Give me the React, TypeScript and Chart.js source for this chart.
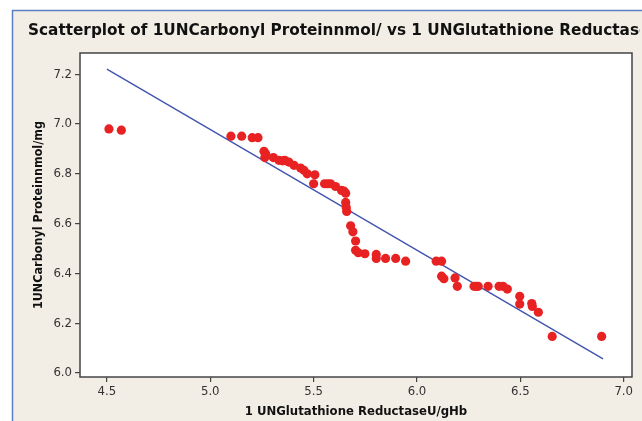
import React, { useEffect, useRef } from "react";
import { Chart, registerables } from "chart.js";

Chart.register(...registerables);

const titleText = "Scatterplot of 1UNCarbonyl Proteinnmol/ vs 1 UNGlutathione Reductase";
const xTitle = "1 UNGlutathione ReductaseU/gHb";
const yTitle = "1UNCarbonyl Proteinnmol/mg";

const xTicks = [4.5, 5.0, 5.5, 6.0, 6.5, 7.0];
const yTicks = [6.0, 6.2, 6.4, 6.6, 6.8, 7.0, 7.2];

const glutathione = [
  4.51, 4.57, 5.10, 5.152, 5.203, 5.231, 5.26, 5.268, 5.264, 5.305, 5.332, 5.35, 5.361, 5.38,
  5.405, 5.437, 5.453, 5.469, 5.506, 5.50, 5.553, 5.568, 5.582, 5.606, 5.635, 5.647, 5.655,
  5.655, 5.658, 5.66, 5.679, 5.69, 5.703, 5.703, 5.716, 5.748, 5.803, 5.803, 5.848, 5.897,
  5.945, 6.093, 6.119, 6.119, 6.13, 6.184, 6.195, 6.276, 6.288, 6.296, 6.344, 6.397, 6.416,
  6.437, 6.497, 6.497, 6.555, 6.558, 6.587, 6.654, 6.893,
];
const carbonyl = [
  6.98, 6.975, 6.951, 6.951, 6.945, 6.945, 6.89, 6.88, 6.865, 6.865, 6.854, 6.852, 6.854, 6.847,
  6.834, 6.823, 6.814, 6.80, 6.796, 6.76, 6.76, 6.76, 6.76, 6.749, 6.733, 6.73, 6.722,
  6.685, 6.665, 6.649, 6.591, 6.567, 6.53, 6.493, 6.483, 6.479, 6.476, 6.46, 6.46, 6.46,
  6.449, 6.449, 6.449, 6.389, 6.379, 6.382, 6.348, 6.348, 6.348, 6.348, 6.348, 6.348, 6.348,
  6.337, 6.308, 6.277, 6.279, 6.267, 6.244, 6.147, 6.147,
];
const fitX = [4.5, 6.9];
const fitY = [7.22, 6.057];

const FONT = "'DejaVu Sans Condensed', 'DejaVu Sans', sans-serif";

const framePlugin = {
  id: "frame",
  beforeDraw(chart: any) {
    const ctx = chart.ctx;
    const { width, height } = chart;
    ctx.save();
    ctx.fillStyle = "#ffffff";
    ctx.fillRect(0, 0, width, height);
    ctx.fillStyle = "#f2eee6";
    ctx.fillRect(12, 10, width - 12, height - 10);
    ctx.strokeStyle = "#5b7fc4";
    ctx.lineWidth = 1.5;
    ctx.beginPath();
    ctx.moveTo(12.5, height);
    ctx.lineTo(12.5, 10.5);
    ctx.lineTo(width, 10.5);
    ctx.stroke();
    const a = chart.chartArea;
    ctx.fillStyle = "#ffffff";
    ctx.fillRect(a.left, a.top, a.right - a.left, a.bottom - a.top);
    // title
    ctx.font = "bold 16px " + FONT;
    ctx.fillStyle = "#111111";
    ctx.textBaseline = "middle";
    ctx.textAlign = "left";
    ctx.beginPath();
    ctx.rect(12, 10, 628, 40);
    ctx.clip();
    const w = ctx.measureText(titleText.slice(0, 67)).width;
    const sx = 611 / w;
    ctx.translate(28, 31);
    ctx.scale(sx, 1);
    ctx.fillText(titleText, 0, 0);
    ctx.restore();
  },
  afterDraw(chart: any) {
    const ctx = chart.ctx;
    const a = chart.chartArea;
    ctx.save();
    ctx.strokeStyle = "#444444";
    ctx.lineWidth = 1.5;
    ctx.strokeRect(a.left, a.top, a.right - a.left, a.bottom - a.top);
    ctx.restore();
  },
};

export default function App() {
  const ref = useRef<HTMLCanvasElement | null>(null);
  useEffect(() => {
    document.body.style.margin = "0";
    const canvas = ref.current!;
    const points = glutathione.map((x, i) => ({ x, y: carbonyl[i] }));
    const fit = fitX.map((x, i) => ({ x, y: fitY[i] }));
    const chart = new Chart(canvas, {
      type: "scatter",
      data: {
        datasets: [
          {
            type: "line",
            data: fit,
            borderColor: "#4155ae",
            borderWidth: 1.4,
            pointRadius: 0,
            fill: false,
            order: 2,
          } as any,
          {
            data: points,
            backgroundColor: "#e82222",
            borderColor: "#e82222",
            pointRadius: 4.6,
            pointBorderWidth: 0,
            order: 1,
          },
        ],
      },
      plugins: [framePlugin],
      options: {
        responsive: false,
        animation: false,
        layout: { padding: { left: 12, top: 53, right: 10, bottom: 0 } },
        plugins: {
          legend: { display: false },
          tooltip: { enabled: false },
          title: { display: false },
        },
        scales: {
          x: {
            type: "linear",
            min: 4.37,
            max: 7.04,
            afterFit: (s: any) => {
              s.height = 44;
            },
            afterBuildTicks: (s: any) => {
              s.ticks = xTicks.map((v) => ({ value: v }));
            },
            grid: {
              drawOnChartArea: false,
              drawTicks: true,
              tickLength: 5,
              color: "#444444",
              lineWidth: 1.2,
            },
            border: { display: false },
            ticks: {
              padding: 2,
              color: "#333333",
              font: { family: FONT, size: 13 },
              callback: (v: any) => Number(v).toFixed(1),
            },
            title: {
              display: true,
              text: xTitle,
              color: "#111111",
              font: { family: FONT, size: 13, weight: "bold" },
              padding: { top: 0, bottom: 2 },
            },
          },
          y: {
            type: "linear",
            min: 5.984,
            max: 7.285,
            afterFit: (s: any) => {
              s.width = 68;
            },
            afterBuildTicks: (s: any) => {
              s.ticks = yTicks.map((v) => ({ value: v }));
            },
            grid: {
              drawOnChartArea: false,
              drawTicks: true,
              tickLength: 5,
              color: "#444444",
              lineWidth: 1.2,
            },
            border: { display: false },
            ticks: {
              padding: 3,
              color: "#333333",
              font: { family: FONT, size: 13 },
              callback: (v: any) => Number(v).toFixed(1),
            },
            title: {
              display: true,
              text: yTitle,
              color: "#111111",
              font: { family: FONT, size: 12.5, weight: "bold" },
              padding: { top: 19, bottom: 0 },
            },
          },
        },
      },
    });
    return () => chart.destroy();
  }, []);
  return <canvas ref={ref} width={642} height={421} style={{ display: "block" }} />;
}
